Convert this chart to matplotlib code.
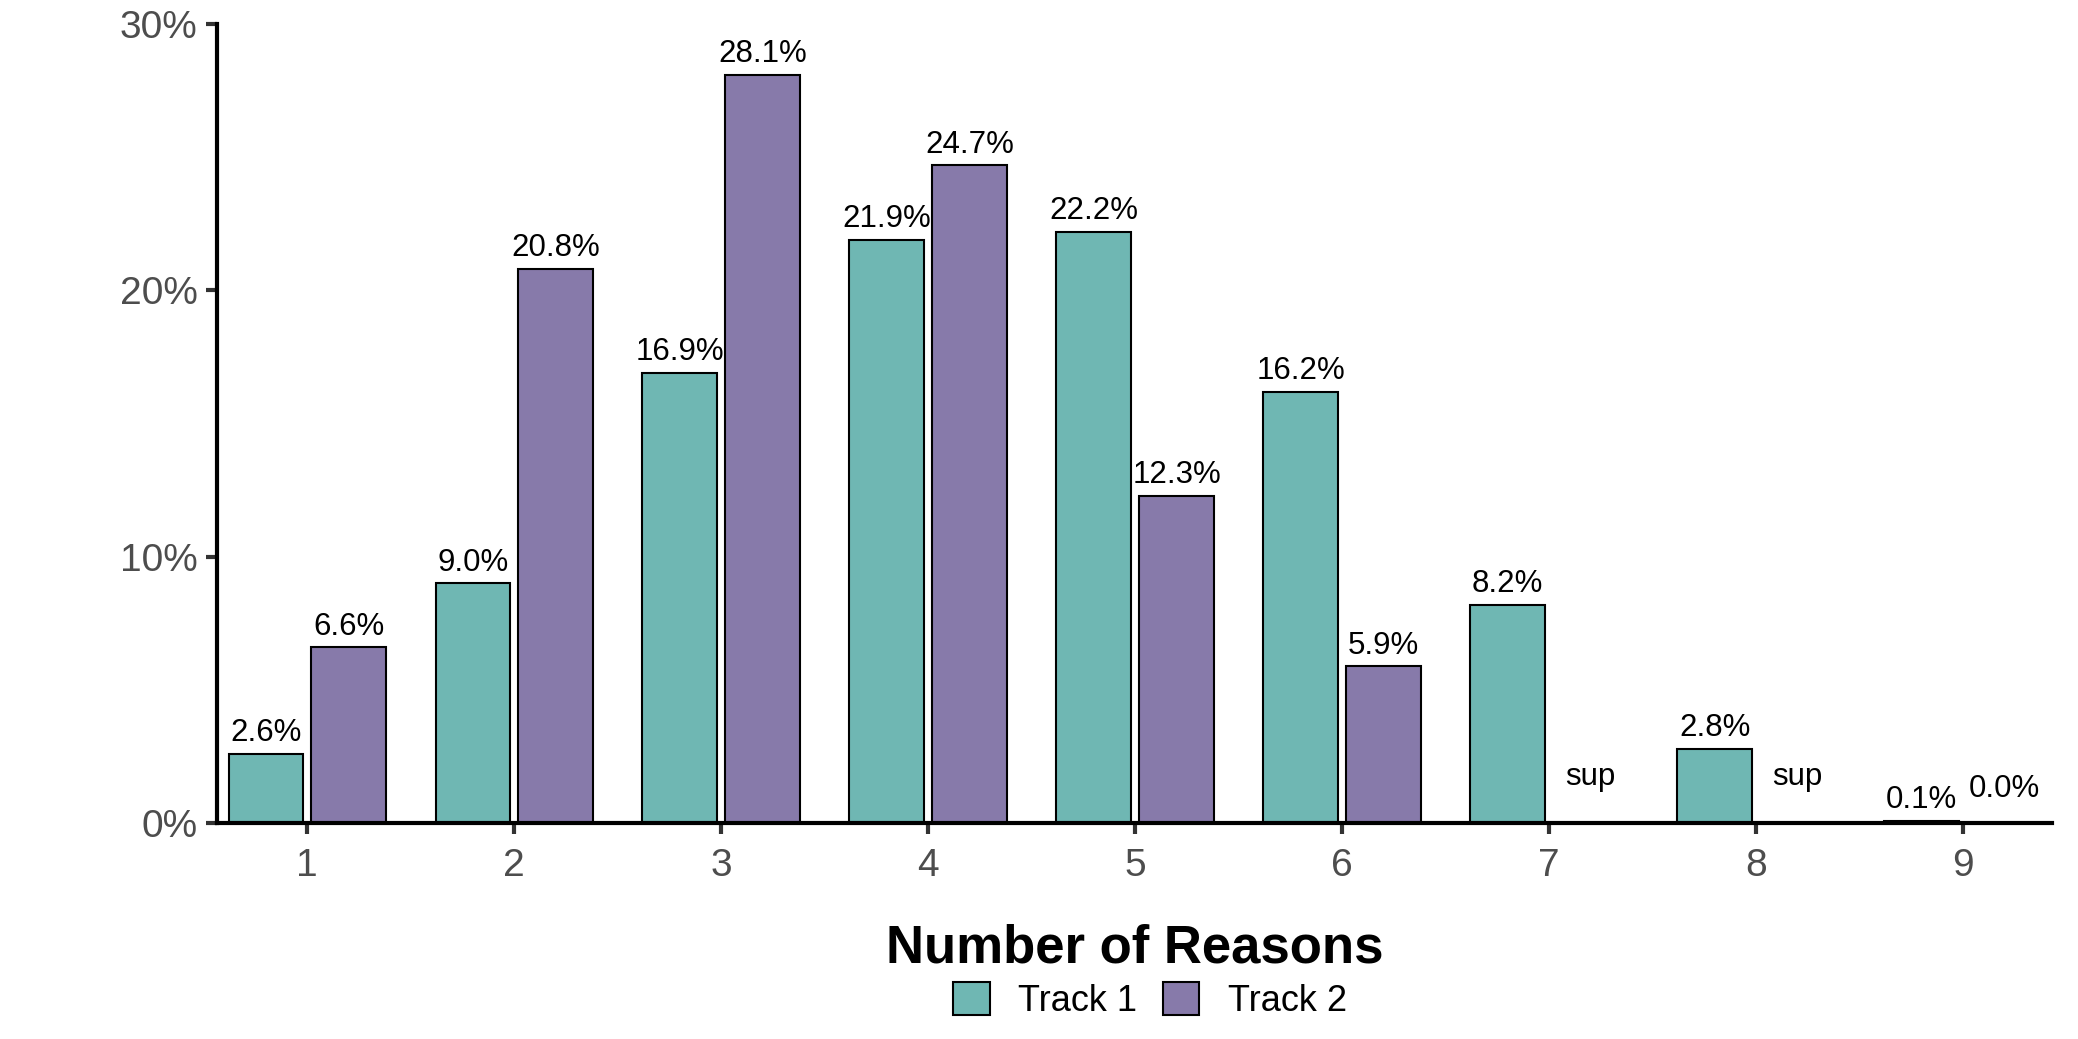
import numpy as np
import matplotlib
matplotlib.use("Agg")
import matplotlib.pyplot as plt
from matplotlib.patches import Patch

plt.rcParams["font.family"] = ["Liberation Sans", "DejaVu Sans"]

# data (percent)
reasons = [1, 2, 3, 4, 5, 6, 7, 8, 9]
track1 = [2.6, 9.0, 16.9, 21.9, 22.2, 16.2, 8.2, 2.8, 0.1]
track2 = [6.6, 20.8, 28.1, 24.7, 12.3, 5.9, np.nan, np.nan, 0.0]  # nan = suppressed
y_ticks = [0, 10, 20, 30]

TEAL = "#6fb7b3"
PURPLE = "#877aaa"
BAR_W = 0.36
OFFSET = 0.2


def label_text(v):
    return "sup" if np.isnan(v) else f"{v:.1f}%"


def main():
    fig = plt.figure(figsize=(20.78, 10.39), dpi=100)
    ax = fig.add_axes([0.1045, 0.2076, 0.883, 0.7694])

    x = np.array(reasons, dtype=float)
    t1 = np.array(track1)
    t2 = np.array(track2)

    ax.bar(x - OFFSET, t1, width=BAR_W, color=TEAL, edgecolor="black", linewidth=1.5)
    ax.bar(x + OFFSET, np.nan_to_num(t2), width=BAR_W, color=PURPLE,
           edgecolor="black", linewidth=1.5)
    # hide the zero-height bars that came from suppressed values
    for patch, v in zip(ax.patches[len(x):], t2):
        if np.isnan(v):
            patch.set_visible(False)

    for xi, v in zip(x - OFFSET, t1):
        ax.annotate(label_text(v), (xi, v), xytext=(0, 4), textcoords="offset points",
                    ha="center", va="bottom", fontsize=22.5)
    for xi, v in zip(x + OFFSET, t2):
        if np.isnan(v):
            ax.text(xi, 1.75, "sup", ha="center", va="center", fontsize=22.5)
        elif v == 0:
            ax.text(xi, 1.3, label_text(v), ha="center", va="center", fontsize=22.5)
        else:
            ax.annotate(label_text(v), (xi, v), xytext=(0, 4), textcoords="offset points",
                        ha="center", va="bottom", fontsize=22.5)

    ax.set_xlim(0.565, 9.43)
    ax.set_ylim(0, 30)
    ax.set_xticks(reasons)
    ax.set_yticks(y_ticks)
    ax.set_yticklabels([f"{t}%" for t in y_ticks])
    ax.tick_params(axis="both", labelsize=28, colors="#333333", length=8, width=3,
                   labelcolor="#4d4d4d")
    ax.tick_params(axis="x", pad=10)
    ax.tick_params(axis="y", pad=6)

    for side in ["top", "right"]:
        ax.spines[side].set_visible(False)
    for side in ["left", "bottom"]:
        ax.spines[side].set_linewidth(3)
        ax.spines[side].set_color("black")

    ax.set_xlabel("Number of Reasons", fontsize=38, fontweight="bold", labelpad=28)

    handles = [Patch(facecolor=TEAL, edgecolor="black", linewidth=1.5, label="Track 1"),
               Patch(facecolor=PURPLE, edgecolor="black", linewidth=1.5, label="Track 2")]
    fig.legend(handles=handles, loc="center", bbox_to_anchor=(0.5535, 0.037), ncol=2,
               frameon=False, fontsize=26, handlelength=1.0, handleheight=1.0,
               columnspacing=0.7, handletextpad=0.8)

    fig.savefig("out.png", dpi=100)
    plt.close(fig)


if __name__ == "__main__":
    main()
